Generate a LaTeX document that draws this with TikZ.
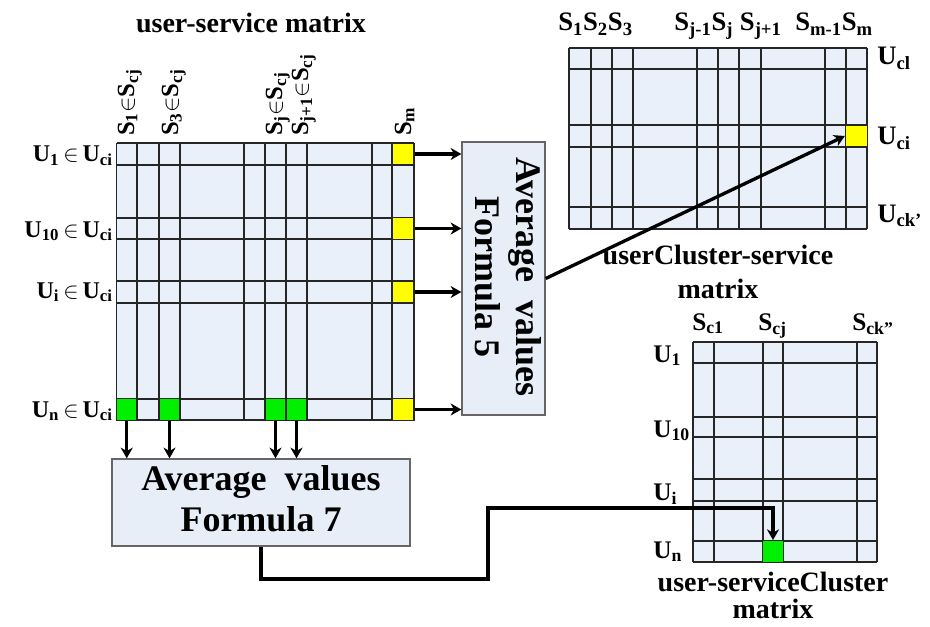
\documentclass[tikz,border=0pt]{standalone}
\usepackage{fontspec}
\setmainfont{Liberation Serif}
\usetikzlibrary{arrows.meta}
\definecolor{cellbg}{HTML}{EAF0FA}
\definecolor{boxbg}{HTML}{E8EEF8}
\definecolor{ylw}{HTML}{FFFF00}
\definecolor{grn}{HTML}{00F000}
\newcommand\lsb[1]{\textsubscript{#1}}
\newcommand\inn{\,$\in$\,}
\begin{document}
\begin{tikzpicture}[x=0.75pt,y=-0.75pt,
  every node/.style={font=\bfseries, inner sep=0pt},
  gl/.style={draw=black!85, line width=1pt},
  ycell/.style={draw=black!85, line width=1pt, fill=ylw, minimum width=16.5pt, minimum height=16.2pt},
  gcell/.style={draw=black!85, line width=1pt, fill=grn, minimum width=15.6pt, minimum height=16.2pt},
  fbox/.style={draw=black!60, line width=1pt, fill=boxbg},
  ftxt/.style={font=\bfseries\fontsize{27}{31}\selectfont, align=center},
  arr/.style={line width=2.5pt, -{Stealth[length=8pt,width=9pt,inset=2.5pt]}},
  ttl/.style={font=\bfseries\fontsize{21}{24}\selectfont},
  rlab/.style={font=\bfseries\fontsize{18}{20}\selectfont},
  clab/.style={font=\bfseries\fontsize{18.5}{20}\selectfont},
  tlab/.style={font=\bfseries\fontsize{20}{22}\selectfont},
  blab/.style={font=\bfseries\fontsize{19}{21}\selectfont}]
\useasboundingbox (0,0) rectangle (930,627);

% ---------- left matrix ----------
\fill[cellbg] (116.5,143) rectangle (414,420);
\foreach \x in {116.5,137,159,180,244,265,286,307,372,392,414}
  \draw[gl] (\x,143) -- (\x,420);
\foreach \y in {143,165,218,239,281,303,399,420}
  \draw[gl] (116.5,\y) -- (414,\y);
\node[ycell] (ya) at (403,154) {};
\node[ycell] (yb) at (403,228.5) {};
\node[ycell] (yc0) at (403,292) {};
\node[ycell] (yd) at (403,409.5) {};
\node[gcell] (ga) at (126.75,409.5) {};
\node[gcell] (gb) at (169.5,409.5) {};
\node[gcell] (gc) at (275.5,409.5) {};
\node[gcell] (gd0) at (296.5,409.5) {};

\node[ttl] (t1) at (251,23) {user-service matrix};
\node[rlab, anchor=base east] (r1) at (113,162) {U\lsb{1}\inn U\lsb{ci}};
\node[rlab, anchor=base east] (r2) at (113,237) {U\lsb{10}\inn U\lsb{ci}};
\node[rlab, anchor=base east] (r3) at (113,298) {U\lsb{i}\inn U\lsb{ci}};
\node[rlab, anchor=base east] (r4) at (113,417) {U\lsb{n}\inn U\lsb{ci}};
\node[clab, rotate=90, anchor=base west] (c1) at (134,136) {S\lsb{1}$\in$S\lsb{cj}};
\node[clab, rotate=90, anchor=base west] (c2) at (178,136) {S\lsb{3}$\in$S\lsb{cj}};
\node[clab, rotate=90, anchor=base west] (c3) at (282,136) {S\lsb{j}$\in$S\lsb{cj}};
\node[clab, rotate=90, anchor=base west] (c4) at (308,136) {S\lsb{j+1}$\in$S\lsb{cj}};
\node[clab, rotate=90, anchor=base west] (c5) at (411,136) {S\lsb{m}};

% ---------- formula boxes ----------
\node[fbox, minimum width=62.25pt, minimum height=204.75pt] (f5) at (503.5,278.5) {};
\node[ftxt, rotate=-90] (f5t) at (508,277) {Average\ \ values\\Formula 5};
\node[fbox, minimum width=223.5pt, minimum height=65.25pt] (f7) at (261,502.5) {};
\node[ftxt] (f7t) at (261,499) {Average\ \ values\\Formula 7};

% ---------- top-right matrix ----------
\fill[cellbg] (569,48) rectangle (867,229);
\foreach \x in {569,591,612,633,697,718,739,761,825,846,867}
  \draw[gl] (\x,48) -- (\x,229);
\foreach \y in {48,69,125,147,207,229}
  \draw[gl] (569,\y) -- (867,\y);
\node[ycell] (yc) at (856.5,136) {};
\node[tlab, anchor=base west] (s1) at (558,31) {S\lsb{1}S\lsb{2}S\lsb{3}};
\node[tlab, anchor=base west] (s2) at (674,31) {S\lsb{j-1}S\lsb{j} S\lsb{j+1}};
\node[tlab, anchor=base west] (s3) at (795,31) {S\lsb{m-1}S\lsb{m}};
\node[tlab, anchor=base west] (u1) at (877,65) {U\lsb{cl}};
\node[tlab, anchor=base west] (u2) at (877,145) {U\lsb{ci}};
\node[tlab, anchor=base west] (u3) at (877,222) {U\lsb{ck’}};
\node[ttl] (t2) at (718,255) {userCluster-service};
\node[ttl] (t3) at (718,289) {matrix};

% ---------- bottom-right matrix ----------
\fill[cellbg] (693,342) rectangle (877,562);
\foreach \x in {693,714,763,783,857,877}
  \draw[gl] (\x,342) -- (\x,562);
\foreach \y in {342,363,417,437,479,501,541,562}
  \draw[gl] (693,\y) -- (877,\y);
\node[gcell] (gd) at (773,551.5) {};
\node[blab, anchor=base west] (v1) at (653,362) {U\lsb{1}};
\node[blab, anchor=base west] (v2) at (653,437) {U\lsb{10}};
\node[blab, anchor=base west] (v3) at (653,500) {U\lsb{i}};
\node[blab, anchor=base west] (v4) at (653,558) {U\lsb{n}};
\node[blab, anchor=base west] (w1) at (692,330) {S\lsb{c1}};
\node[blab, anchor=base west] (w2) at (758,330) {S\lsb{cj}};
\node[blab, anchor=base west] (w3) at (852,330) {S\lsb{ck”}};
\node[ttl] (t4) at (773,582) {user-serviceCluster};
\node[ttl] (t5) at (773,609) {matrix};

% ---------- connectors ----------
\foreach \n in {ya,yb,yc0,yd}
  \draw[arr] (\n.east) -- (\n.east -| f5.west);
\foreach \n in {ga,gb,gc,gd0}
  \draw[arr] (\n.south) -- (\n.south |- f7.north);
\draw[arr] (f5.east) -- (yc.west);
\coordinate (bend1) at (261,579);
\coordinate (bend2) at (488,508);
\draw[arr] (f7.south) -- (f7.south |- bend1) -| (bend2) -| (gd.north);
\end{tikzpicture}
\end{document}
